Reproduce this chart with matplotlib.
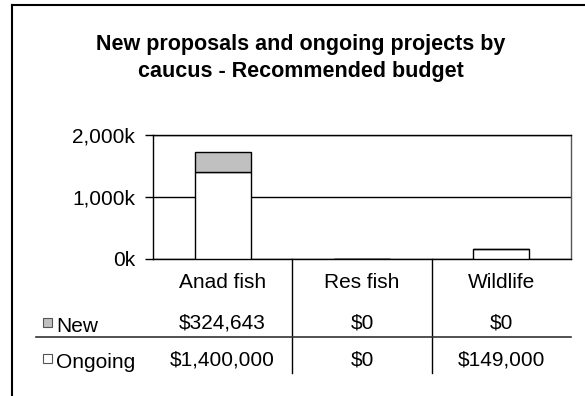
import numpy as np
import matplotlib
matplotlib.use('Agg')
import matplotlib.pyplot as plt
from matplotlib.lines import Line2D
from matplotlib.patches import Rectangle
from matplotlib.transforms import blended_transform_factory

plt.rcParams['font.family'] = ['Liberation Sans', 'DejaVu Sans']

# Data
categories = ['Anad fish', 'Res fish', 'Wildlife']
series_names = ['New', 'Ongoing']
new_vals = [324643, 0, 0]
ongoing_vals = [1400000, 0, 149000]
series_colors = ['#c0c0c0', 'white']
yticks = [0, 1000000, 2000000]
title = 'New proposals and ongoing projects by\ncaucus - Recommended budget'

W, H = 585, 396
fig = plt.figure(figsize=(W / 100, H / 100), dpi=100)


def fx(px):
    return px / W


def fy(py):
    return 1 - py / H


# plot area
ax = fig.add_axes([fx(153), fy(258.7), fx(571) - fx(153), fy(135) - fy(258.7)])
x = np.arange(len(categories))
ax.bar(x, ongoing_vals, 0.4, color=series_colors[1], edgecolor='black', lw=1, zorder=3)
ax.bar(x, new_vals, 0.4, bottom=ongoing_vals, color=series_colors[0],
       edgecolor='black', lw=1, zorder=3)
ax.set_xlim(-0.5, len(categories) - 0.5)
ax.set_ylim(yticks[0], yticks[-1])
ax.set_yticks(yticks)
ax.set_yticklabels([f'{v / 1000:,.0f}k' for v in yticks], fontsize=15)
ax.set_xticks([])
ax.tick_params(axis='y', length=6, width=1, direction='out', pad=7)
ax.yaxis.grid(True, color='black', lw=1)
ax.set_axisbelow(True)
for s in ax.spines.values():
    s.set_color('black')
    s.set_linewidth(1)
ax.spines['right'].set_color('#555555')

# data table below the plot
trans = blended_transform_factory(ax.transData, fig.transFigure)
for i, cat in enumerate(categories):
    fig.text(i, fy(282), cat, transform=trans, ha='center', va='center', fontsize=15)
    fig.text(i, fy(323), f'${new_vals[i]:,.0f}', transform=trans,
             ha='center', va='center', fontsize=15)
    fig.text(i, fy(360), f'${ongoing_vals[i]:,.0f}', transform=trans,
             ha='center', va='center', fontsize=15)
for i in range(1, len(categories)):
    ax.plot([i - 0.5, i - 0.5], [fy(258.7), fy(373)], transform=trans,
            color='black', lw=1, clip_on=False)
fig.add_artist(Line2D([fx(36), fx(571)], [fy(337), fy(337)], color='#333333', lw=1.2))

# legend keys in the table
for name, col, py in zip(series_names, series_colors, [327, 363]):
    fig.add_artist(Rectangle((fx(43), fy(py)), fx(9), 9 / H, facecolor=col,
                             edgecolor='#555555', lw=0.8))
    fig.text(fx(56), fy(py - 1), name, ha='left', va='center', fontsize=15)

# title
fig.text(fx(301), fy(58), title, ha='center', va='center', fontsize=15.5,
         fontweight='bold', linespacing=1.35)

# chart border
fig.add_artist(Line2D([fx(12), 1], [fy(5), fy(5)], color='black', lw=1.5))
fig.add_artist(Line2D([fx(12), fx(12)], [fy(5), 0], color='black', lw=1.5))

fig.savefig('out.png', dpi=100)
